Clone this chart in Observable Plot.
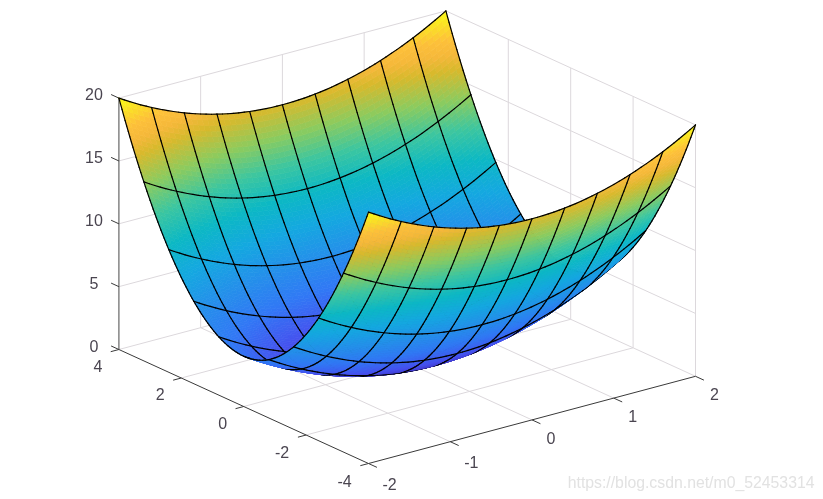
<!DOCTYPE html>
<html><head><meta charset="utf-8">
<script src="https://cdn.jsdelivr.net/npm/d3@7"></script>
<script src="https://cdn.jsdelivr.net/npm/@observablehq/plot@0.6"></script>
<style>html,body{margin:0;padding:0;background:#fff}svg{display:block;filter:blur(0.45px)}</style>
</head><body><div id="chart"></div>
<script>
const gridX = [-2,-1.6,-1.2,-0.8,-0.4,0,0.4,0.8,1.2,1.6,2];
const gridY = [4,3.2,2.4,1.6,0.8,0,-0.8,-1.6,-2.4,-3.2,-4];
const surfaceZ = [
 [20,18.56,17.44,16.64,16.16,16,16.16,16.64,17.44,18.56,20],
 [14.24,12.8,11.68,10.88,10.4,10.24,10.4,10.88,11.68,12.8,14.24],
 [9.76,8.32,7.2,6.4,5.92,5.76,5.92,6.4,7.2,8.32,9.76],
 [6.56,5.12,4,3.2,2.72,2.56,2.72,3.2,4,5.12,6.56],
 [4.64,3.2,2.08,1.28,0.8,0.64,0.8,1.28,2.08,3.2,4.64],
 [4,2.56,1.44,0.64,0.16,0,0.16,0.64,1.44,2.56,4],
 [4.64,3.2,2.08,1.28,0.8,0.64,0.8,1.28,2.08,3.2,4.64],
 [6.56,5.12,4,3.2,2.72,2.56,2.72,3.2,4,5.12,6.56],
 [9.76,8.32,7.2,6.4,5.92,5.76,5.92,6.4,7.2,8.32,9.76],
 [14.24,12.8,11.68,10.88,10.4,10.24,10.4,10.88,11.68,12.8,14.24],
 [20,18.56,17.44,16.64,16.16,16,16.16,16.64,17.44,18.56,20]
];
const xTicks = [-2,-1,0,1,2];
const yTicks = [-4,-2,0,2,4];
const zTicks = [0,5,10,15,20];
const parulaStops = [0,2,4,6,8,10,12,14,16,17,18,20];
const parulaColors = ["#3e26a8","#4650ee","#3178f5","#2490ea","#14a8e0","#0cb8c4","#3cc6a0","#8ccb5e","#d8b92c","#f5b83a","#fdc03a","#f9fb15"];
const watermark = "https://blog.csdn.net/m0_52453314";

// orthographic view of the data box (az -37.5, el 30, as stretched in the picture)
const px = (x,y) => 368 + (x+2)*81.75 - (y+4)*31.2;
const py = (x,y,z) => 463 - (x+2)*21.8 - (y+4)*14.25 - z*12.57;
const nearness = (x,y,z) => -0.527*x/4 - 0.687*y/8 + 0.5*z/20;

// smooth rendering between matrix samples (Catmull-Rom, as the surface is curved between mesh lines)
const cr=(a,b,c,d,t)=>0.5*(2*b+(c-a)*t+(2*a-5*b+4*c-d)*t*t+(3*b-a-3*c+d)*t*t*t);
const rowAt=(r,j)=>{const R=surfaceZ[r];const n=R.length;
  if(j<0) return 3*R[0]-3*R[1]+R[2];
  if(j>=n) return 3*R[n-1]-3*R[n-2]+R[n-3];
  return R[j];};
const colAt=(i,j)=>{const n=surfaceZ.length;
  if(i<0) return 3*rowAt(0,j)-3*rowAt(1,j)+rowAt(2,j);
  if(i>=n) return 3*rowAt(n-1,j)-3*rowAt(n-2,j)+rowAt(n-3,j);
  return rowAt(i,j);};
function pointAt(i,j,s,t){
  const x = gridX[j]+(gridX[j+1]-gridX[j])*s, y = gridY[i]+(gridY[i+1]-gridY[i])*t;
  const v=[-1,0,1,2].map(di=>cr(colAt(i+di,j-1),colAt(i+di,j),colAt(i+di,j+1),colAt(i+di,j+2),s));
  return [x,y,cr(v[0],v[1],v[2],v[3],t)];
}
const SUBX=6, SUBY=16;
const items = [];
for (let i=0;i<gridY.length-1;i++) for (let j=0;j<gridX.length-1;j++) {
  for (let m=0;m<SUBY;m++) for (let n=0;n<SUBX;n++) {
    const s0=n/SUBX,s1=(n+1)/SUBX,t0=m/SUBY,t1=(m+1)/SUBY;
    const cs=[pointAt(i,j,s0,t0),pointAt(i,j,s1,t0),pointAt(i,j,s1,t1),pointAt(i,j,s0,t1)];
    const mean=[0,1,2].map(k=>d3.mean(cs,p=>p[k]));
    items.push({depth:nearness(...mean),pts:[...cs,cs[0]],c:mean[2],w:0.7});
    const edge=(p,q)=>{const e=[0,1,2].map(k=>(p[k]+q[k])/2);
      items.push({depth:nearness(...e)+0.03,pts:[p,q],c:-1,w:1.2});};
    if(m===0) edge(cs[0],cs[1]);
    if(n===0) edge(cs[0],cs[3]);
    if(m===SUBY-1&&i===gridY.length-2) edge(cs[3],cs[2]);
    if(n===SUBX-1&&j===gridX.length-2) edge(cs[1],cs[2]);
  }
}
items.sort((a,b)=>a.depth-b.depth);
const surfaceRows=[];
items.forEach((it,id)=>it.pts.forEach(p=>surfaceRows.push({x:p[0],y:p[1],z:p[2],id,c:it.c,w:it.w})));

// box: grid lines on the floor and the two back walls
const seg=(a,b)=>({x1:px(a[0],a[1]),y1:py(...a),x2:px(b[0],b[1]),y2:py(...b)});
const gridSegs=[];
for(const z of zTicks){gridSegs.push(seg([-2,4,z],[2,4,z]),seg([2,4,z],[2,-4,z]));}
for(const x of xTicks){ if(x>-2) gridSegs.push(seg([x,4,0],[x,4,20])); if(x>-2&&x<2) gridSegs.push(seg([x,-4,0],[x,4,0])); }
for(const y of yTicks){ if(y<4) gridSegs.push(seg([2,y,0],[2,y,20])); if(y>-4&&y<4) gridSegs.push(seg([-2,y,0],[2,y,0])); }
const axisSegs=[seg([-2,-4,0],[2,-4,0]),seg([-2,-4,0],[-2,4,0])];
const zAxisSeg=[seg([-2,4,0],[-2,4,20])];
const tickSegs=[
 ...xTicks.map(x=>seg([x,-4,0],[x,-4.27,0])),
 ...yTicks.map(y=>seg([-2,y,0],[-2.1,y,0])),
 ...zTicks.map(z=>seg([-2,4,z],[-2,4.25,z]))
];
const lab=(t,p,dx,dy)=>({t:String(t),x:px(p[0],p[1])+dx,y:py(...p)+dy});
const labels=[
 ...xTicks.map(x=>lab(x,[x,-4,0],x<0?21:19,x<0?21:19)),
 ...yTicks.map(y=>lab(y,[-2,y,0],y<0?-24:-21,y<0?18:17)),
 ...zTicks.map(z=>lab(z,[-2,4,z],-25,-3))
];
const labFont={fontFamily:"Liberation Sans, Arial, sans-serif",fontSize:16,fill:"#4a4550"};

const chart=Plot.plot({
  width:823,height:499,margin:0,
  x:{domain:[0,823],range:[0,823],axis:null},
  y:{domain:[0,499],range:[0,499],axis:null},
  color:{type:"linear",domain:[-1,-0.01,...parulaStops],range:["#000","#000",...parulaColors],clamp:true},
  style:{background:"#fff"},
  marks:[
    Plot.link(gridSegs,{x1:"x1",y1:"y1",x2:"x2",y2:"y2",stroke:"#dcd8dc",strokeWidth:1}),
    Plot.link(axisSegs,{x1:"x1",y1:"y1",x2:"x2",y2:"y2",stroke:"#3a3a3a",strokeWidth:1}),
    Plot.link(zAxisSeg,{x1:"x1",y1:"y1",x2:"x2",y2:"y2",stroke:"#666",strokeWidth:1.2}),
    Plot.link(tickSegs,{x1:"x1",y1:"y1",x2:"x2",y2:"y2",stroke:"#3a3a3a",strokeWidth:1}),
    Plot.line(surfaceRows,{
      x:d=>px(d.x,d.y),y:d=>py(d.x,d.y,d.z),z:"id",
      fill:"c",stroke:"c",strokeWidth:"w",strokeLinejoin:"round",strokeOpacity:1,curve:"linear"
    }),
    Plot.text(labels,{x:"x",y:"y",text:"t",textAnchor:"middle",lineAnchor:"middle",...labFont}),
    Plot.text([watermark],{frameAnchor:"bottom-right",dx:-9,dy:-12,fontFamily:"Liberation Sans, Arial, sans-serif",fontSize:15.8,fill:"#e2e2e2",textAnchor:"end"})
  ]
});
document.getElementById("chart").append(chart);
</script></body></html>
